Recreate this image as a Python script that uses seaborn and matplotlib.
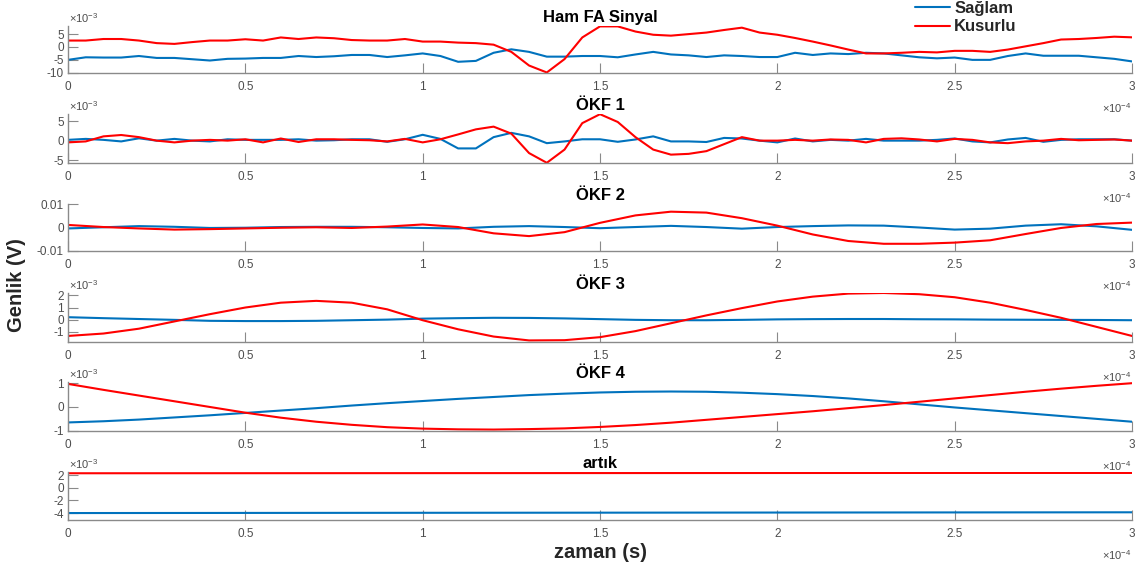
import numpy as np
import pandas as pd
import matplotlib
matplotlib.use("Agg")
import matplotlib.pyplot as plt
import seaborn as sns
from matplotlib.lines import Line2D
from matplotlib.ticker import FixedLocator, FuncFormatter

# ---------------- data ----------------
titles = ["Ham FA Sinyal", "ÖKF 1", "ÖKF 2", "ÖKF 3", "ÖKF 4", "artık"]
series_names = ["Sağlam", "Kusurlu"]

t_fine = np.linspace(0, 3e-4, 61)     # 5 µs sampling
t_mid = np.linspace(0, 3e-4, 31)
t_coarse = np.linspace(0, 3e-4, 7)

# Ham FA Sinyal (x1e-3 V)
ham_saglam = [-5.0, -4.0, -4.1, -4.1, -3.5, -4.25, -4.25, -4.75, -5.25, -4.6,
              -4.5, -4.25, -4.25, -3.5, -3.9, -3.6, -3.1, -3.1, -3.9, -3.25,
              -2.5, -3.5, -5.75, -5.4, -2.25, -0.9, -1.9, -3.75, -3.75, -3.5,
              -3.5, -4.0, -2.9, -1.9, -2.9, -3.25, -3.9, -3.25, -3.5, -3.9,
              -3.9, -2.25, -3.1, -2.5, -2.75, -2.25, -2.5, -3.25, -4.0, -4.4,
              -4.1, -5.0, -5.0, -3.5, -2.5, -3.4, -3.4, -3.4, -4.0, -4.6, -5.6]
ham_kusurlu = [2.5, 2.5, 3.1, 3.1, 2.5, 1.5, 1.2, 1.9, 2.5, 2.5,
               3.0, 2.5, 3.7, 3.1, 3.7, 3.4, 2.7, 2.5, 2.5, 3.1,
               2.1, 2.1, 1.7, 1.5, 0.9, -1.9, -7.2, -9.9, -4.7, 3.7,
               8.0, 8.0, 6.0, 4.75, 4.4, 5.0, 5.6, 6.6, 7.5, 5.6,
               4.75, 3.5, 2.1, 0.6, -1.0, -2.5, -2.5, -2.25, -1.9, -2.1,
               -1.5, -1.5, -1.9, -1.0, 0.25, 1.5, 2.9, 3.1, 3.5, 4.0, 3.75]

# ÖKF 1 (x1e-3 V)
okf1_saglam = [0.2, 0.45, 0.2, -0.2, 0.6, 0.0, 0.45, 0.0, -0.2, 0.35,
               0.2, 0.2, 0.2, 0.35, 0.0, 0.1, 0.35, 0.35, -0.3, 0.35,
               1.5, 0.45, -2.0, -2.0, 0.9, 2.0, 1.1, -0.65, -0.2, 0.35,
               0.35, -0.3, 0.3, 1.1, -0.2, -0.2, -0.35, 0.7, 0.55, 0.0,
               -0.45, 0.55, -0.2, 0.2, 0.0, 0.45, 0.0, 0.0, 0.0, 0.2,
               0.55, -0.2, -0.45, 0.3, 0.7, -0.3, 0.2, 0.35, 0.35, 0.35, 0.0]
okf1_kusurlu = [-0.45, -0.2, 1.1, 1.45, 0.9, 0.0, -0.45, 0.0, 0.2, 0.0,
                0.35, -0.45, 0.55, -0.35, 0.35, 0.35, 0.2, 0.1, -0.2, 0.45,
                -0.45, 0.35, 1.6, 2.9, 3.6, 1.8, -3.2, -5.7, -2.3, 4.5,
                6.8, 4.8, 0.9, -2.3, -3.6, -3.4, -2.7, -0.9, 0.9, 0.0,
                0.0, 0.2, 0.0, 0.3, 0.2, -0.45, 0.45, 0.6, 0.3, -0.2,
                0.45, 0.2, -0.45, -0.65, -0.2, 0.0, 0.45, 0.1, 0.2, 0.3, 0.0]

# ÖKF 2 (V)
okf2_saglam = [-0.0004, 0.0001, 0.0006, 0.0003, -0.0002, -0.0001, 0.0002, 0.0003,
               0.0003, 0.0001, -0.0002, -0.0004, 0.0003, 0.0006, 0.0002, -0.0003,
               0.0002, 0.0007, 0.0002, -0.0005, 0.0002, 0.0006, 0.0009, 0.0008,
               0.0000, -0.0009, -0.0005, 0.0008, 0.0014, 0.0005, -0.0010]
okf2_kusurlu = [0.0011, 0.0002, -0.0004, -0.0009, -0.0007, -0.0004, -0.0001, 0.0001,
                -0.0002, 0.0004, 0.0013, 0.0002, -0.0025, -0.0037, -0.0020, 0.0020,
                0.0052, 0.0068, 0.0064, 0.0040, 0.0008, -0.0030, -0.0058, -0.0070,
                -0.0070, -0.0065, -0.0055, -0.0028, -0.0002, 0.0015, 0.0021]

# ÖKF 3 (x1e-3 V)
okf3_saglam = [0.2, 0.12, 0.05, -0.02, -0.1, -0.12, -0.12, -0.1, -0.05, 0.0,
               0.08, 0.12, 0.15, 0.14, 0.1, 0.04, -0.02, -0.05, -0.05, -0.02,
               0.02, 0.04, 0.05, 0.05, 0.03, 0.02, 0.0, -0.01, -0.02, -0.03, -0.05]
okf3_kusurlu = [-1.35, -1.15, -0.75, -0.15, 0.45, 1.0, 1.4, 1.55, 1.4, 0.85,
                -0.05, -0.8, -1.4, -1.72, -1.7, -1.45, -0.95, -0.3, 0.35, 0.95,
                1.5, 1.9, 2.15, 2.2, 2.1, 1.85, 1.4, 0.8, 0.15, -0.6, -1.35]

# ÖKF 4 (x1e-3 V)
okf4_saglam = [-0.65, -0.6, -0.53, -0.44, -0.35, -0.25, -0.15, -0.05, 0.06, 0.16,
               0.25, 0.34, 0.42, 0.5, 0.56, 0.61, 0.64, 0.65, 0.64, 0.6,
               0.54, 0.46, 0.36, 0.24, 0.11, -0.02, -0.14, -0.26, -0.38, -0.5, -0.62]
okf4_kusurlu = [0.97, 0.72, 0.48, 0.24, 0.0, -0.24, -0.45, -0.62, -0.75, -0.85,
                -0.91, -0.94, -0.95, -0.93, -0.9, -0.84, -0.76, -0.66, -0.54, -0.42,
                -0.3, -0.18, -0.05, 0.08, 0.22, 0.36, 0.5, 0.64, 0.77, 0.89, 1.0]

# artık (x1e-3 V)
artik_saglam = [-4.0, -3.98, -3.96, -3.94, -3.92, -3.9, -3.88]
artik_kusurlu = [2.3, 2.31, 2.32, 2.33, 2.34, 2.35, 2.35]

panel_data = [
    (t_fine, ham_saglam, ham_kusurlu),
    (t_fine, okf1_saglam, okf1_kusurlu),
    (t_mid, okf2_saglam, okf2_kusurlu),
    (t_mid, okf3_saglam, okf3_kusurlu),
    (t_mid, okf4_saglam, okf4_kusurlu),
    (t_coarse, artik_saglam, artik_kusurlu),
]
ylims = [(-10.1, 8.15), (-5.75, 6.85), (-0.0101, 0.0101), (-1.85, 2.2), (-1.01, 1.05), (-5.1, 2.5)]
yticks = [[-10, -5, 0, 5], [-5, 0, 5], [-0.01, 0, 0.01], [-1, 0, 1, 2], [-1, 0, 1], [-4, -2, 0, 2]]
has_exp = [True, True, False, True, True, True]
xticks = [0, 0.5e-4, 1e-4, 1.5e-4, 2e-4, 2.5e-4, 3e-4]

# ---------------- style ----------------
sns.set_theme(style="white")
plt.rcParams['font.family'] = ['Liberation Sans', 'DejaVu Sans']
plt.rcParams['axes.linewidth'] = 0.8
plt.rcParams['mathtext.fontset'] = 'custom'
plt.rcParams['mathtext.rm'] = 'Liberation Sans'

blue = "#0072BD"
red = "#FF0000"
tick_col = "#4d4d4d"
spine_col = "#8a8a8a"

W, H = 1140, 571
fig = plt.figure(figsize=(W / 100, H / 100), dpi=100)

# axes positions in pixels (top, bottom)
pos_px = [(26, 73), (114, 163), (204, 251), (293, 342), (382, 431), (472, 520)]
left_px, right_px = 68, 1132

def yfmt(v, p):
    if abs(v) < 1e-12:
        return "0"
    return f"{v:g}"

for i, (top, bot) in enumerate(pos_px):
    ax = fig.add_axes([left_px / W, 1 - bot / H, (right_px - left_px) / W, (bot - top) / H])
    tt, s_vals, k_vals = panel_data[i]
    df = pd.DataFrame({"t": np.concatenate([tt, tt]),
                       "v": np.concatenate([s_vals, k_vals]),
                       "seri": [series_names[0]] * len(tt) + [series_names[1]] * len(tt)})
    sns.lineplot(data=df, x="t", y="v", hue="seri", palette=[blue, red],
                 linewidth=1.5, ax=ax, legend=False, sort=False, estimator=None)
    ax.set_xlim(0, 3e-4)
    ax.set_ylim(*ylims[i])
    ax.xaxis.set_major_locator(FixedLocator(xticks))
    ax.xaxis.set_major_formatter(FuncFormatter(lambda v, p: f"{v / 1e-4:g}"))
    ax.yaxis.set_major_locator(FixedLocator(yticks[i]))
    ax.yaxis.set_major_formatter(FuncFormatter(yfmt))
    ax.set_xlabel("")
    ax.set_ylabel("")
    for sp in ["top", "right"]:
        ax.spines[sp].set_visible(False)
    for sp in ["left", "bottom"]:
        ax.spines[sp].set_color(spine_col)
        ax.spines[sp].set_linewidth(1.0)
    ax.tick_params(axis="both", direction="in", length=7.5, width=0.8,
                   colors=spine_col, labelcolor=tick_col, labelsize=8.5, pad=3,
                   left=True, bottom=True)
    ax.tick_params(axis="x", pad=6)
    ax.set_title(titles[i], fontsize=12, fontweight="bold", pad=3, color="black")
    if has_exp[i]:
        ax.annotate(r"$\times10^{-3}$", xy=(0, 1), xycoords="axes fraction",
                    xytext=(1, 1), textcoords="offset points", ha="left", va="bottom",
                    fontsize=8, color=tick_col)
    ax.annotate(r"$\times10^{-4}$", xy=(1, 0), xycoords="axes fraction",
                xytext=(0, -20), textcoords="offset points", ha="right", va="top",
                fontsize=8, color=tick_col)

fig.text(17 / W, 1 - 285 / H, "Genlik (V)", rotation=90, ha="center", va="center",
         fontsize=14.5, fontweight="bold", color="#262626")
fig.text(600 / W, 1 - 553 / H, "zaman (s)", ha="center", va="center",
         fontsize=14.5, fontweight="bold", color="#262626")

handles = [Line2D([0], [0], color=blue, lw=1.5), Line2D([0], [0], color=red, lw=1.5)]
fig.legend(handles, series_names, loc="upper left", bbox_to_anchor=(915 / W, 1 - 1 / H),
           frameon=False, prop={"size": 12, "weight": "bold"}, handlelength=2.1,
           handletextpad=0.25, labelspacing=0.2, borderpad=0, borderaxespad=0)

fig.savefig("out.png", dpi=100)
